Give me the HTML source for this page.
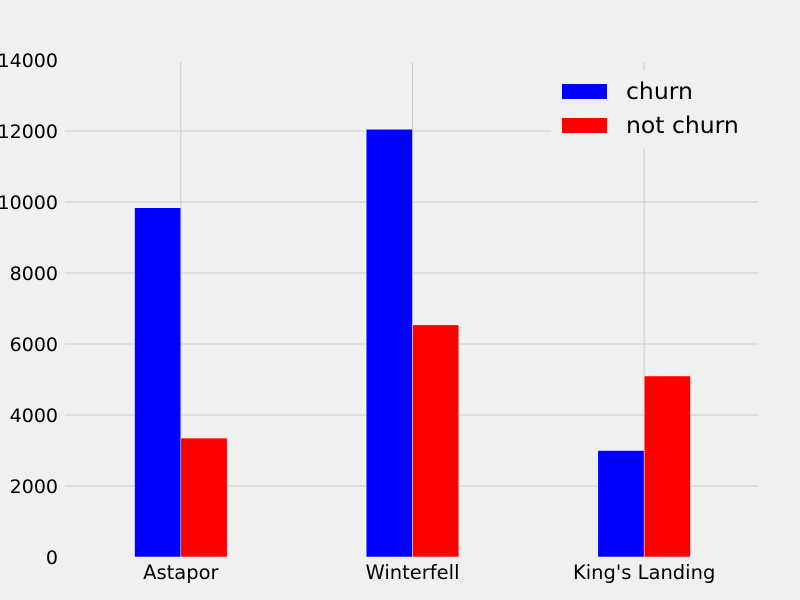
<!DOCTYPE html>
<html><head><meta charset="utf-8"><style>
html,body{margin:0;padding:0;background:#f0f0f0;}
svg{display:block;font-family:"DejaVu Sans","Liberation Sans",sans-serif;}
</style></head><body>
<svg id="chart" width="800" height="600">
<rect width="800" height="600" fill="#f0f0f0"/>
<g id="grid"></g><g id="bars"></g><g id="ticks"></g><g id="legend"></g>
</svg>
<script>
const categories = ["Astapor", "Winterfell", "King's Landing"];
const churnValues = [9840, 12050, 3000];
const notChurnValues = [3350, 6540, 5100];
const yTicks = [0, 2000, 4000, 6000, 8000, 10000, 12000, 14000];
const seriesNames = ["churn", "not churn"];

const NS = "http://www.w3.org/2000/svg";
const x0 = 65, x1 = 760, y0 = 557, y1 = 60;
function xScale(v){ return x0 + (v + 0.5) / 3 * (x1 - x0); }
function yScale(v){ return y0 - v / 14000 * (y0 - y1); }
function mk(tag, attrs, parent){ const e = document.createElementNS(NS, tag); for (const k in attrs) e.setAttribute(k, attrs[k]); parent.appendChild(e); return e; }

const grid = document.getElementById('grid');
yTicks.forEach(t => {
  if (t > 0 && t < 14000) {
    const l = mk('line', {x1: x0, x2: x1 - 2, y1: yScale(t), y2: yScale(t), stroke: '#cbcbcb', 'stroke-width': 1}, grid);
    
    
  }
  const tx = mk('text', {x: 58, y: yScale(t) + 7, 'text-anchor': 'end', 'font-size': 19, fill: '#000'}, document.getElementById('ticks'));
  tx.textContent = t;
  
  
});
categories.forEach((c, i) => {
  const l = mk('line', {x1: xScale(i), x2: xScale(i), y1: y1 + 2, y2: y0, stroke: '#cbcbcb', 'stroke-width': 1}, grid);
  
  
  const tx = mk('text', {x: xScale(i), y: 579, 'text-anchor': 'middle', 'font-size': 19.5, fill: '#000'}, document.getElementById('ticks'));
  tx.textContent = c;
  
  
});

const bars = document.getElementById('bars');
const bw = 0.2 / 3 * (x1 - x0);
categories.forEach((c, i) => {
  const cy = yScale(churnValues[i]);
  const b1 = mk('rect', {x: xScale(i) - bw, y: cy, width: bw, height: y0 - cy, fill: '#0000ff', stroke: '#fff', 'stroke-width': 0.5}, bars);
  
  
  const ny = yScale(notChurnValues[i]);
  const b2 = mk('rect', {x: xScale(i), y: ny, width: bw, height: y0 - ny, fill: '#ff0000', stroke: '#fff', 'stroke-width': 0.5}, bars);
  
  
});

const lg = document.getElementById('legend');


mk('rect', {x: 551, y: 70, width: 206, height: 78, fill: '#f0f0f0'}, lg);
const colors = ['#0000ff', '#ff0000'];
seriesNames.forEach((s, i) => {
  const r = mk('rect', {x: 562, y: 84 + i * 34, width: 45, height: 15, fill: colors[i]}, lg);
  
  
  const t = mk('text', {x: 626, y: 99 + i * 34, 'font-size': 23.5, fill: '#000'}, lg);
  t.textContent = s;
  
  
});
</script>
</body></html>
